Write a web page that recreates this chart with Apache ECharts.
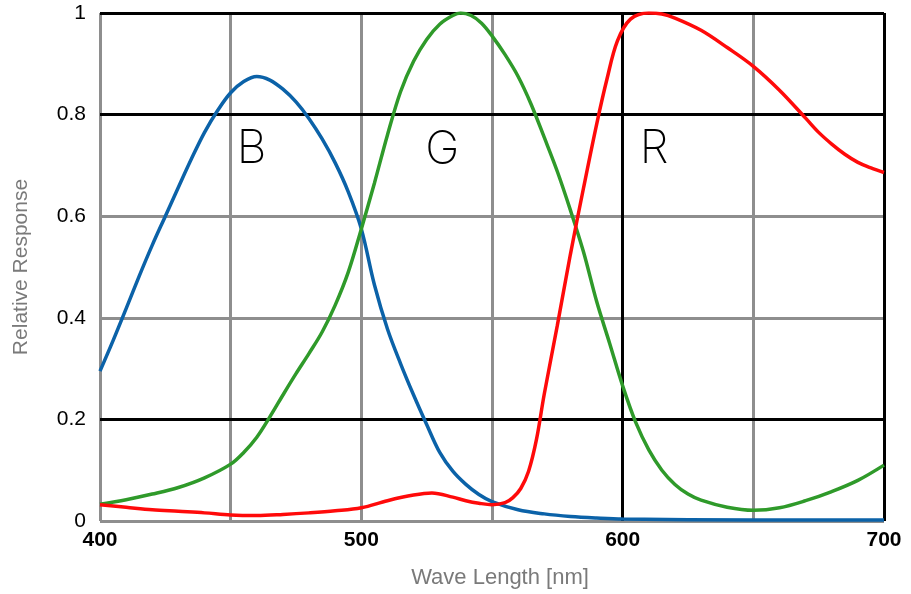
<!DOCTYPE html>
<html>
<head>
<meta charset="utf-8">
<script src="https://cdn.jsdelivr.net/npm/echarts@6/dist/echarts.min.js"></script>
<style>
html,body{margin:0;padding:0;background:#fff;}
#chart{width:911px;height:594px;}
</style>
</head>
<body>
<div id="chart"></div>
<script>
// ---- data ----
var blueX = [400,405,410,415,420,425,430,435,440,445,450,455,460,465,470,475,480,485,490,495,500,505,510,515,520,525,530,535,540,545,550,560,570,580,590,600,650,700];
var blueY = [0.295,0.355,0.418,0.482,0.543,0.600,0.657,0.713,0.765,0.808,0.843,0.865,0.875,0.868,0.850,0.825,0.792,0.752,0.705,0.648,0.575,0.465,0.378,0.310,0.248,0.190,0.135,0.098,0.072,0.052,0.038,0.022,0.014,0.009,0.006,0.004,0.002,0.002];

var greenX = [400,410,420,430,440,450,455,460,465,470,475,480,485,490,495,500,505,510,515,520,525,530,535,538,542,546,550,555,560,565,570,575,580,585,590,595,600,605,610,615,620,625,630,640,650,660,670,680,690,700];
var greenY = [0.033,0.042,0.053,0.066,0.085,0.112,0.135,0.165,0.205,0.248,0.290,0.330,0.372,0.425,0.490,0.575,0.665,0.760,0.845,0.905,0.948,0.978,0.995,1.000,0.995,0.980,0.955,0.918,0.875,0.820,0.755,0.688,0.612,0.530,0.433,0.350,0.266,0.194,0.140,0.100,0.072,0.053,0.041,0.027,0.021,0.026,0.040,0.058,0.080,0.110];

var redX = [400,410,420,430,440,450,460,470,480,490,500,510,520,527,535,540,545,550,555,558,561,564,567,570,575,580,585,590,594,598,603,610,615,620,630,640,650,660,670,675,680,685,690,695,700];
var redY = [0.032,0.027,0.022,0.019,0.016,0.012,0.011,0.013,0.016,0.020,0.026,0.040,0.051,0.055,0.047,0.040,0.035,0.032,0.036,0.046,0.064,0.098,0.160,0.250,0.385,0.525,0.655,0.780,0.870,0.945,0.988,1.000,0.998,0.990,0.966,0.932,0.895,0.848,0.793,0.765,0.742,0.722,0.706,0.695,0.686];

var letterNames = ['B','G','R'];
var letterX = [458, 531, 612];
var letterY = [0.731, 0.729, 0.731];

var blackXLines = [600, 700];
var blackYLines = [0.2, 0.8, 1];

function pairs(xs, ys){ return xs.map(function(x,i){ return [x, ys[i]]; }); }

var gridDotted = { color: '#8e8e8e', width: 3, type: 'solid' };

var chart = echarts.init(document.getElementById('chart'), null, {renderer:'canvas'});
var markLineData = [];
blackXLines.forEach(function(v){ markLineData.push({xAxis: v}); });
blackYLines.forEach(function(v){ markLineData.push({yAxis: v}); });

var markPointData = letterNames.map(function(n,i){ return {name:n, coord:[letterX[i], letterY[i]]}; });

var curveCommon = { type:'line', showSymbol:false, symbol:'none', smooth:0.35, z:5, silent:true };

chart.setOption({
  animation: false,
  backgroundColor: '#fff',
  grid: { left: 100, right: 27, top: 13, bottom: 71, containLabel: false },
  textStyle: { fontFamily: 'Liberation Sans, Arial, sans-serif' },
  xAxis: {
    type: 'value', min: 400, max: 700, interval: 50,
    axisLine: { show: false },
    axisTick: { show: false },
    splitLine: { show: true, lineStyle: gridDotted },
    axisLabel: {
      margin: 9, color: '#000', fontSize: 21, fontWeight: 'bold',
      fontFamily: 'Liberation Sans, Arial, sans-serif',
      formatter: function(v){ return v % 100 === 0 ? String(v) : ''; }
    },
    name: 'Wave Length [nm]', nameLocation: 'middle', nameGap: 46,
    nameTextStyle: { color: '#7a7a7a', fontSize: 22, fontFamily: 'Liberation Sans, Arial, sans-serif', padding: [0,0,0,16] }
  },
  yAxis: {
    type: 'value', min: 0, max: 1, interval: 0.2,
    axisLine: { show: false },
    axisTick: { show: false },
    splitLine: { show: true, lineStyle: gridDotted },
    axisLabel: { margin: 14, color: '#000', fontSize: 21, fontFamily: 'Liberation Sans, Arial, sans-serif' },
    name: 'Relative Response', nameLocation: 'middle', nameGap: 68,
    nameTextStyle: { color: '#7a7a7a', fontSize: 21, fontFamily: 'Liberation Sans, Arial, sans-serif' }
  },
  series: [
    {
      type: 'line', data: [], z: 1, silent: true,
      markLine: {
        silent: true, symbol: ['none','none'], animation: false,
        label: { show: false },
        lineStyle: { color: '#000', width: 3, type: 'solid' },
        data: markLineData
      },
      markPoint: {
        silent: true, symbol: 'circle', symbolSize: 0, animation: false,
        label: { show: true, position: 'inside', formatter: '{b}', color: '#000', fontSize: 46, fontFamily: 'Inter, Liberation Sans, sans-serif', fontWeight: 200 },
        data: markPointData
      }
    },
    Object.assign({}, curveCommon, { name:'B', data: pairs(blueX, blueY), lineStyle: { color: '#0b62a8', width: 3.5 } }),
    Object.assign({}, curveCommon, { name:'G', data: pairs(greenX, greenY), lineStyle: { color: '#2f9a2a', width: 3.5 } }),
    Object.assign({}, curveCommon, { name:'R', data: pairs(redX, redY), lineStyle: { color: '#ff0a0a', width: 3.5 } })
  ]
});
</script>
</body>
</html>
